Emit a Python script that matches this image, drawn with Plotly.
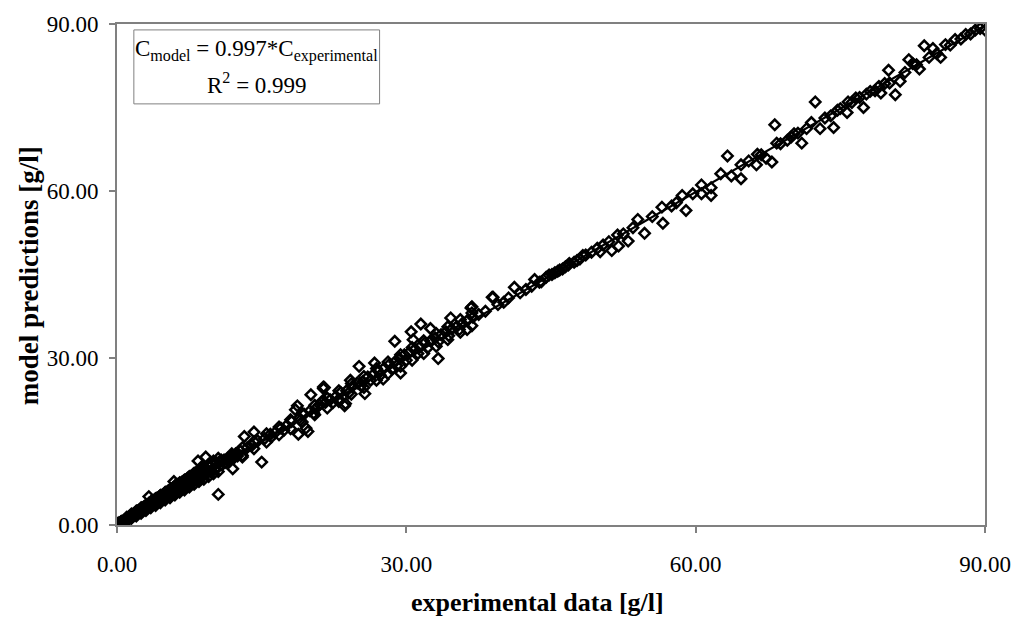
import plotly.graph_objects as go

# ---- data ----
x_low = [0.0,0.1,0.2,0.2,0.3,0.4,0.5,0.5,0.6,0.7,
         0.8,0.9,1.0,1.0,1.1,1.2,1.3,1.4,1.5,1.5,
         1.6,1.7,1.8,1.9,2.0,2.0,2.1,2.2,2.3,2.4,
         2.5,2.5,2.6,2.7,2.8,2.9,3.0,3.0,3.1,3.2,
         3.3,3.4,3.5,3.5,3.6,3.7,3.8,3.9,4.0,4.0,
         4.1,4.2,4.3,4.4,4.5,4.5,4.6,4.7,4.8,4.9,
         5.0,5.0,5.1,5.2,5.3,5.4,5.5,5.5,5.6,5.7,
         5.8,5.9,6.0,6.0,6.1,6.2,6.3,6.4,6.5,6.6,
         6.7,6.8,6.9,7.0,7.1,7.2,7.3,7.4,7.5,7.6,
         7.7,7.8,7.9,8.0,8.1,8.2,8.3,8.4,8.5,8.6,
         8.7,8.8,8.9,9.0,9.1,9.3,9.5,9.7,9.9,10.1,
         10.3,10.5,10.7,10.9,11.1,11.3,11.5,11.7,11.9,12.1,
         12.3,12.5,
         0.0,0.0,0.1,0.3,0.4,0.6,0.7,0.9,1.1,1.2,
         1.3,1.6,1.7,1.9,2.1,2.2,2.4,2.6,2.8,3.1,
         3.3,3.6,3.8,4.1,4.3,4.6,4.9,5.2,5.6,5.9,
         6.2,6.5,6.8,7.1,7.4,7.7,8.0,8.4,8.8,9.2]
y_low = [0.1,0.2,0.1,0.4,0.3,0.5,0.4,0.7,0.6,0.8,
         0.9,0.8,1.2,0.9,1.3,1.1,1.5,1.3,1.8,1.4,
         1.9,1.6,2.1,1.8,2.4,1.9,2.5,2.1,2.7,2.3,
         2.9,2.4,3.1,2.6,3.3,2.8,3.5,2.9,3.6,3.1,
         3.9,3.3,4.1,3.4,4.2,3.6,4.4,3.8,4.7,3.9,
         4.8,4.1,5.0,4.3,5.3,4.4,5.3,4.6,5.5,4.8,
         5.8,4.9,5.9,5.1,6.1,5.3,6.4,5.4,6.4,5.6,
         6.7,5.8,7.0,5.9,7.0,6.1,7.3,6.3,7.5,6.5,
         7.7,6.7,7.9,6.9,8.1,7.1,8.4,7.3,8.6,7.5,
         8.8,7.7,9.1,7.9,9.3,8.1,9.5,8.3,9.7,8.5,
         9.9,8.7,10.1,8.9,10.2,9.2,10.6,9.6,10.9,10.0,
         11.2,10.4,11.4,10.8,11.7,11.2,12.0,11.6,12.4,12.0,
         12.8,12.4,
         0.0,0.3,0.0,0.2,0.6,0.4,0.6,1.0,1.0,1.4,
         1.2,1.7,1.8,2.2,2.2,2.5,2.6,2.8,3.0,3.4,
         3.5,3.9,4.1,4.4,4.6,4.9,5.2,5.6,6.0,6.3,
         6.7,6.9,7.3,7.6,7.9,8.2,8.6,9.0,9.4,9.8]

# edges of the dense low band
x_band = [1.0,1.5,2.0,2.5,3.0,3.5,4.0,4.5,5.0,5.5,
          6.0,6.5,7.0,7.5,8.0,8.5,9.0,9.5,10.0,10.5]
y_band_up = [1.4,2.0,2.5,3.1,3.6,4.2,4.7,5.3,5.9,6.4,
             7.0,7.6,8.1,8.7,9.3,9.8,10.4,10.9,11.5,12.0]
y_band_lo = [0.7,1.2,1.6,2.1,2.6,3.1,3.5,4.0,4.5,4.9,
             5.4,5.9,6.3,6.8,7.3,7.8,8.2,8.7,9.2,9.6]

x_out_low = [3.3,5.9,8.4,9.2,8.8,10.8,10.5,12.0,13.0,13.2,14.2,15.0,11.9,18.5]
y_out_low = [5.1,7.8,11.5,12.2,10.5,11.7,5.5,10.1,12.2,15.9,16.7,11.3,12.8,20.7]

x_mid = [12.8,13.5,14.0,14.6,15.3,15.9,16.4,17.0,17.6,18.1,
         18.9,19.4,20.0,20.6,21.0,21.3,21.4,21.5,21.6,22.1,
         22.7,23.2,23.8,24.4,24.9,25.5,26.0,26.6,27.1,27.7,
         28.2,28.8,29.3,29.8,30.3,30.9,31.4,31.9,32.5,33.0,
         33.6,34.1,34.7,35.2,35.8,36.3,36.9,
         16.0,17.3,19.0,20.4,22.4,23.0,24.0,25.3,26.3,27.3,
         28.5,29.0,30.0,31.2,32.2,33.3,34.4,35.5]
y_mid = [13.3,13.9,14.3,15.1,15.5,16.3,16.6,17.4,17.9,18.6,
         19.2,19.9,20.5,20.9,21.6,22.3,24.5,24.7,22.0,22.5,
         23.1,23.8,24.1,24.9,25.5,25.8,26.6,27.1,27.6,28.2,
         28.8,29.3,29.9,30.6,31.0,31.6,32.0,32.7,33.1,33.6,
         34.2,34.7,35.2,35.6,36.2,36.7,37.3,
         15.8,17.0,18.8,20.1,22.0,22.6,23.7,25.0,26.0,26.9,
         28.0,28.6,29.6,30.8,31.8,32.9,34.0,35.1]

# edges of the mid band
x_mband = [13.0,14.2,15.5,16.8,18.0,19.2,20.5,21.8,23.0,24.3,
           25.6,26.9,28.1,29.4,30.6,31.8,33.1,34.3,35.6,36.8]
y_mband_up = [13.9,15.0,16.4,17.6,18.9,20.1,21.5,22.8,24.1,25.4,
              26.7,28.1,29.3,30.6,31.9,33.1,34.4,35.6,36.9,38.1]
y_mband_lo = [12.5,13.7,14.9,16.2,17.3,18.5,19.8,21.0,22.2,23.5,
              24.7,26.0,27.2,28.5,29.6,30.8,32.1,33.3,34.6,35.8]

x_out_mid = [25.1,26.7,28.8,30.5,31.5,32.5,34.6,36.7,38.9,33.3,
             29.4,25.7,23.6,19.6,20.1,21.4,27.6,30.7,24.2,18.7,
             36.3,18.8,19.8,23.7]
y_out_mid = [28.5,29.1,33.0,34.7,36.1,35.3,37.2,39.0,40.9,29.9,
             27.3,23.6,21.4,17.4,23.4,24.8,26.2,33.3,26.0,21.4,
             35.1,16.3,16.8,21.8]

x_hi = [37.5,38.2,39.0,39.5,40.1,40.6,41.2,41.8,42.4,43.0,
        43.3,43.8,44.5,45.1,45.4,45.7,46.2,46.5,46.8,47.4,
        48.0,48.6,49.2,49.8,50.1,50.4,51.0,51.3,52.0,52.5,
        53.0,53.5,54.7,55.5,57.5,58.0,58.6,59.7,
        36.8,51.9,54.0,56.5,56.6,59.0,
        44.0,44.8,45.9,46.9,47.7,48.3]
y_hi = [37.8,38.4,40.9,39.6,40.0,40.8,42.7,41.7,42.3,42.9,
        44.1,43.6,44.5,45.0,45.3,45.6,46.0,46.4,46.7,47.2,
        47.8,48.5,49.0,49.7,49.1,50.3,50.9,49.3,50.1,52.3,
        51.0,53.4,52.4,55.4,57.3,57.9,59.2,59.5,
        39.2,52.1,54.9,57.1,54.2,56.5,
        43.7,44.9,45.8,47.0,47.5,48.4]

x_top = [60.6,61.6,62.6,63.3,64.7,64.7,66.3,66.4,67.3,67.9,
         68.2,68.4,69.5,70.2,71.0,72.0,72.4,72.9,74.0,74.3,
         75.0,75.7,75.8,76.6,77.4,77.7,78.6,79.2,80.1,80.0,
         80.7,81.2,82.1,82.5,83.2,83.7,84.6,85.4,85.9,86.9,
         88.0,89.0,90.0,
         61.6,60.6,63.7,
         65.5,66.8,68.8,69.9,70.6,71.5,73.4,74.7,76.2,77.0,
         78.1,79.0,79.6,81.7,82.9,84.2,85.0,86.4,87.5,88.5,
         89.5]
y_top = [61.1,60.6,63.1,66.3,62.2,64.7,64.7,66.6,65.9,65.2,
         71.9,68.6,69.1,70.3,68.6,72.3,76.0,71.2,73.5,71.4,
         74.8,74.1,76.0,76.7,75.0,77.4,78.0,77.6,79.4,81.7,
         77.3,79.7,83.6,82.9,81.9,86.1,85.6,84.0,86.3,87.2,
         88.1,88.9,88.9,
         59.2,59.5,62.7,
         65.4,66.5,68.5,69.7,70.4,71.2,73.1,74.5,75.9,76.8,
         77.9,78.8,79.3,81.3,82.7,84.0,84.7,86.2,87.3,88.2,
         89.2]

fit_slope = 0.997
fit_x = [0.0, 90.0]
tick_vals = [0, 30, 60, 90]

x_all = (x_low + x_band + x_band + x_out_low + x_mid + x_mband + x_mband
         + x_out_mid + x_hi + x_top)
y_all = (y_low + y_band_up + y_band_lo + y_out_low + y_mid + y_mband_up + y_mband_lo
         + y_out_mid + y_hi + y_top)
assert len(x_all) == len(y_all), (len(x_all), len(y_all))

SERIF = "Liberation Serif, Times New Roman, serif"

fig = go.Figure()
fig.add_trace(go.Scatter(
    x=x_all, y=y_all, mode="markers",
    marker=dict(symbol="diamond-open", size=8, color="black",
                line=dict(width=2.5, color="black")),
    showlegend=False, hoverinfo="skip"))
fig.add_trace(go.Scatter(
    x=fit_x, y=[fit_slope * v for v in fit_x], mode="lines",
    line=dict(color="black", width=2.2), showlegend=False, hoverinfo="skip"))

L, R, T, B = 117, 30, 17, 95
W, H = 1023, 620
pw, ph = W - L - R, H - T - B

def px(xp):
    return (xp - L) / pw

def py(yp):
    return (H - B - yp) / ph

axis_common = dict(range=[0, 90], tickvals=tick_vals, tickformat=".2f",
                   showline=True, linecolor="#808080", linewidth=2, mirror=True,
                   ticks="outside", ticklen=6, tickcolor="#808080", tickwidth=1.5,
                   showgrid=False, zeroline=False,
                   tickfont=dict(family=SERIF, size=23, color="black"))

fig.update_layout(
    width=W, height=H,
    margin=dict(l=L, r=R, t=T, b=B, pad=0),
    paper_bgcolor="white", plot_bgcolor="white",
    xaxis=dict(**axis_common, ticklabelstandoff=11),
    yaxis=dict(**axis_common, ticklabelstandoff=6),
    font=dict(family=SERIF, color="black"),
)

# axis titles
fig.add_annotation(x=px(541), y=py(604), xref="paper", yref="paper",
                   text="<b>experimental data [g/l]</b>", showarrow=False,
                   font=dict(family=SERIF, size=26, color="black"),
                   xanchor="center", yanchor="middle")
fig.add_annotation(x=px(29), y=py(272), xref="paper", yref="paper",
                   text="<b>model predictions [g/l]</b>", showarrow=False,
                   textangle=-90,
                   font=dict(family=SERIF, size=27, color="black"),
                   xanchor="center", yanchor="middle")

# equation box
fig.add_shape(type="rect", xref="paper", yref="paper",
              x0=px(134), x1=px(382), y0=py(98), y1=py(23),
              line=dict(color="#808080", width=1), fillcolor="white", layer="above")
fig.add_annotation(x=px(258), y=py(44), xref="paper", yref="paper",
                   text="C<sub>model</sub> = 0.997*C<sub>experimental</sub>",
                   showarrow=False, font=dict(family=SERIF, size=23, color="black"),
                   xanchor="center", yanchor="middle")
fig.add_annotation(x=px(258), y=py(77), xref="paper", yref="paper",
                   text="R<sup>2</sup> = 0.999",
                   showarrow=False, font=dict(family=SERIF, size=23, color="black"),
                   xanchor="center", yanchor="middle")

fig.write_html("out.html")
